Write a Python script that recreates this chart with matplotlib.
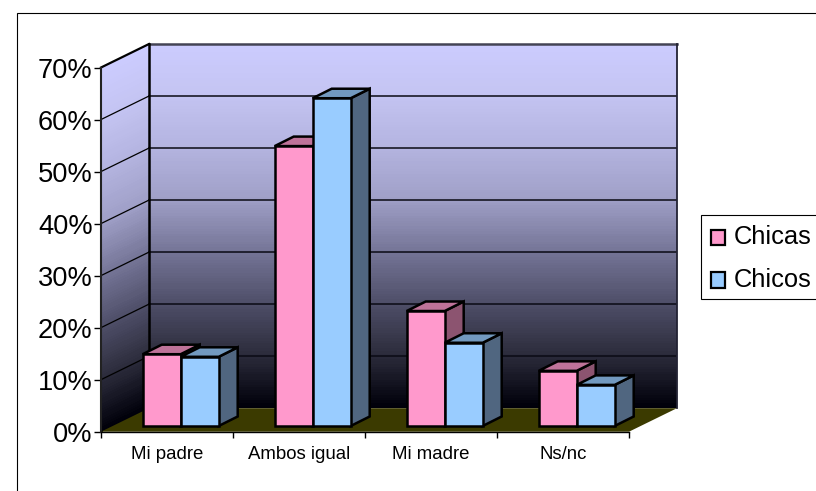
import numpy as np
import matplotlib
matplotlib.use('Agg')
import matplotlib.pyplot as plt
from matplotlib.colors import LinearSegmentedColormap
from matplotlib.legend_handler import HandlerPatch
from matplotlib.patches import Patch, Polygon, Rectangle

plt.rcParams['font.family'] = ['Liberation Sans', 'DejaVu Sans']

categories = ['Mi padre', 'Ambos igual', 'Mi madre', 'Ns/nc']
chicas = [13.8, 53.8, 22.1, 10.6]
chicos = [13.3, 63.0, 16.0, 7.9]
y_ticks = [0, 10, 20, 30, 40, 50, 60, 70]
y_labels = ['0%', '10%', '20%', '30%', '40%', '50%', '60%', '70%']

W, H = 816, 491
px_cat = 132.0   # pixels per category
px_pct = 5.2     # pixels per percent

# depth of the fake 3d box and of the bars, in data units
wall_dx = 48 / px_cat
wall_dy = 23.5 / px_pct
bar_dx = 19 / px_cat
bar_dy = 9.5 / px_pct
bar_w = 38 / px_cat
bar_off = 13.7 / px_cat
bar_base = 5.7 / px_pct

fig = plt.figure(figsize=(W / 100, H / 100), dpi=100)
ax = fig.add_axes((101 / W, (H - 431.7) / H, 576 / W, 387.7 / H))
n = len(categories)
ax.set_xlim(0, n + wall_dx)
ax.set_ylim(0, 70 + wall_dy)
ax.patch.set_visible(False)
for s in ax.spines.values():
    s.set_visible(False)

wall_cmap = LinearSegmentedColormap.from_list('wall', [
    (0.0, '#00000A'), (0.145, '#2C2C3C'), (0.29, '#50506A'), (0.432, '#767698'),
    (0.575, '#A0A0C8'), (0.717, '#B4B4E0'), (0.86, '#C4C4F2'), (1.0, '#CCCCFF')])

# back wall
yy = np.linspace(0, 70, 141)
back = np.array([yy, yy]).T
ax.pcolormesh([wall_dx, n + wall_dx], yy + wall_dy, back[:-1, :-1], cmap=wall_cmap,
              vmin=0, vmax=70, zorder=1, rasterized=True)

# side wall, sheared so the gradient follows the wall
xs = np.linspace(0, wall_dx, 2)
X = np.array([xs for _ in yy])
Y = np.array([yy + wall_dy * t / wall_dx for t in [0, wall_dx]]).T
ax.pcolormesh(X, Y, back[:-1, :-1], cmap=wall_cmap, vmin=0, vmax=70, zorder=1)

# floor
ax.add_patch(Polygon([(0, 0), (n, 0), (n + wall_dx, wall_dy), (wall_dx, wall_dy)],
                     fc='#3B3A00', ec='none', zorder=2))

# gridlines
for v in y_ticks[1:-1]:
    ax.plot([0, wall_dx], [v, v + wall_dy], color='k', lw=0.9, zorder=3)
    ax.plot([wall_dx, n + wall_dx], [v + wall_dy, v + wall_dy], color='#0A0A14', lw=1.1, zorder=3)
ax.plot([wall_dx, n + wall_dx], [70 + wall_dy, 70 + wall_dy], color='#444455', lw=1.8, zorder=3,
        clip_on=False)
ax.plot([0, wall_dx], [70, 70 + wall_dy], color='k', lw=1.6, zorder=3, clip_on=False)
ax.plot([wall_dx, wall_dx], [wall_dy, 70 + wall_dy], color='k', lw=1.8, zorder=3, clip_on=False)
ax.plot([n + wall_dx, n + wall_dx], [wall_dy, 70 + wall_dy], color='#222233', lw=1.3, zorder=3,
        clip_on=False)
ax.plot([0, 0], [0, 70], color='#222222', lw=1.5, zorder=3, clip_on=False)
ax.plot([0, n], [0, 0], color='k', lw=1, zorder=3, clip_on=False)


def bar3d(x, v, front, top, side, z):
    y0 = bar_base
    y1 = bar_base + v
    kw = dict(ec='k', lw=1.8, joinstyle='miter', zorder=z)
    ax.add_patch(Polygon([(x + bar_w, y0), (x + bar_w + bar_dx, y0 + bar_dy),
                          (x + bar_w + bar_dx, y1 + bar_dy), (x + bar_w, y1)], fc=side, **kw))
    ax.add_patch(Polygon([(x, y1), (x + bar_dx, y1 + bar_dy),
                          (x + bar_w + bar_dx, y1 + bar_dy), (x + bar_w, y1)], fc=top, **kw))
    ax.add_patch(Polygon([(x, y0), (x + bar_w, y0), (x + bar_w, y1), (x, y1)], fc=front, **kw))


for i in range(n):
    centre = i + 0.5 + bar_off
    bar3d(centre - bar_w, chicas[i], '#FF99CC', '#BF7399', '#8C5470', 5 + i)
    bar3d(centre, chicos[i], '#99CCFF', '#7299BF', '#506680', 5.5 + i)

ax.set_yticks(y_ticks)
ax.set_yticklabels(y_labels, fontsize=19.6)
ax.tick_params(axis='y', length=5, width=1, pad=1)
ax.set_xticks(range(n + 1))
ax.set_xticklabels([])
ax.tick_params(axis='x', which='major', length=4.2, width=1)
ax.set_xticks([i + 0.5 for i in range(n)], minor=True)
ax.set_xticklabels(categories, minor=True, fontsize=13.4)
ax.tick_params(axis='x', which='minor', length=0, pad=10)

# outer chart border runs off the figure at right and bottom
fig.add_artist(Rectangle((16.5 / W, -0.1), 1, (H - 12.5) / H + 0.1, transform=fig.transFigure,
                         fc='none', ec='k', lw=0.8))

# legend box is cut by the right edge of the picture, so it is drawn apart
fig.add_artist(Rectangle((700.5 / W, (H - 298.5) / H), 130 / W, 84 / H, transform=fig.transFigure,
                         fc='w', ec='k', lw=0.8))


def low_key(legend, orig_handle, xdescent, ydescent, width, height, fontsize):
    # keys sit a little lower than the text in the original
    return Rectangle((-xdescent, -ydescent - 1.5), width, height)


handles = [Patch(fc='#FF99CC', ec='k', lw=1.6), Patch(fc='#99CCFF', ec='k', lw=1.6)]
leg = fig.legend(handles, ['Chicas', 'Chicos'], loc='upper left',
                 bbox_to_anchor=(701.5 / W, (H - 216) / H), borderaxespad=0,
                 fontsize=18.4, frameon=False,
                 handlelength=0.55, handleheight=0.55, handletextpad=0.35,
                 borderpad=0.37, labelspacing=0.72,
                 handler_map={Patch: HandlerPatch(patch_func=low_key)})

fig.savefig('out.png', dpi=100)
